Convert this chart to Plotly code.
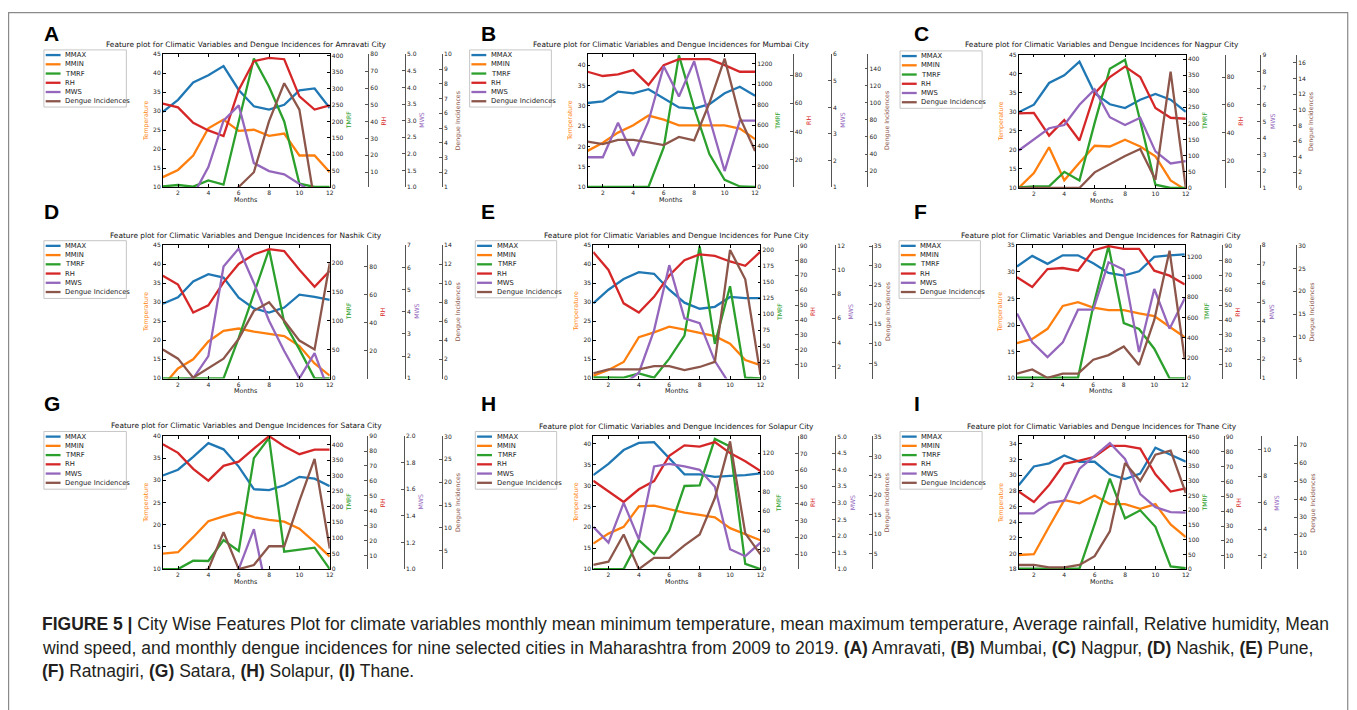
import plotly.graph_objects as go

# ---------------- data ----------------
MONTHS = list(range(1, 13))
CITIES = ["Amravati", "Mumbai", "Nagpur", "Nashik", "Pune", "Ratnagiri", "Satara", "Solapur", "Thane"]
LETTERS = ["A", "B", "C", "D", "E", "F", "G", "H", "I"]
SERIES = ["MMAX", "MMIN", "TMRF", "RH", "MWS", "Dengue Incidences"]

amravati_mmax = [29.8, 33.0, 37.6, 39.5, 41.9, 35.6, 31.3, 30.4, 31.7, 35.5, 36.0, 30.8]
amravati_mmin = [12.6, 14.5, 18.3, 25.5, 27.8, 24.8, 25.1, 23.5, 24.1, 18.3, 18.3, 13.9]
amravati_tmrf = [2, 6, 1, 20, 7, 200, 392, 306, 200, 10, 0, 0]
amravati_rh = [50.7, 48.5, 39.3, 34.8, 31.5, 58.9, 75.9, 77.9, 77.1, 55.0, 47.2, 49.7]
amravati_mws = [0.8, 0.8, 0.75, 1.6, 3.0, 3.46, 1.72, 1.48, 1.38, 1.1, 0.8, 0.8]
amravati_den = [0, 0, 0, 0, 0, 1.0, 2.0, 5.47, 8.04, 6.25, 0, 0]

mumbai_mmax = [30.7, 31.1, 33.5, 33.1, 34.1, 31.9, 29.6, 29.3, 30.4, 33.1, 34.7, 32.5]
mumbai_mmin = [18.9, 20.9, 23.4, 25.2, 27.6, 26.6, 25.2, 25.2, 25.2, 25.2, 24.4, 21.8]
mumbai_tmrf = [0, 0, 0, 0, 0, 384, 1280, 768, 320, 70, 5, 0]
mumbai_rh = [82.3, 79.3, 80.5, 83.5, 73.0, 87.0, 91.2, 91.2, 91.2, 87.0, 82.3, 82.3]
mumbai_mws = [2.12, 2.12, 3.42, 2.18, 3.48, 5.55, 4.41, 5.74, 3.6, 1.6, 3.5, 3.5]
mumbai_den = [54.6, 51.5, 56.5, 56.5, 53.5, 50.4, 60.0, 56.0, 99.6, 151.5, 82.7, 43.5]

nagpur_mmax = [29.9, 31.9, 37.6, 39.6, 43.2, 34.9, 32.0, 31.0, 33.2, 34.7, 33.2, 30.0]
nagpur_mmin = [10.0, 13.9, 20.7, 12.0, 16.6, 21.1, 20.9, 22.7, 20.9, 18.3, 12.0, 9.5]
nagpur_tmrf = [2, 5, 5, 50, 23, 202, 370, 398, 208, 10, 0, 0]
nagpur_rh = [53.9, 54.3, 38.0, 49.2, 34.5, 68.3, 80.0, 87.5, 80.0, 57.8, 50.8, 50.1]
nagpur_mws = [3.25, 3.94, 4.59, 4.78, 6.0, 6.92, 5.25, 4.78, 5.22, 3.2, 2.47, 2.61]
nagpur_den = [0, 0, 0, 0, 0, 2.0, 3.05, 4.1, 5.0, 1.04, 14.9, 0]

nashik_mmax = [29.6, 31.3, 35.5, 37.4, 36.5, 31.2, 28.4, 27.3, 28.6, 32.0, 31.4, 30.6]
nashik_mmin = [8.0, 12.6, 15.0, 19.7, 22.5, 23.1, 22.3, 21.8, 21.1, 18.5, 13.9, 10.7]
nashik_tmrf = [0, 0, 0, 0, 0, 70, 145, 222.7, 96.6, 50, 0, 0]
nashik_rh = [73.5, 67.2, 47.3, 52.4, 68.8, 81.9, 88.6, 92.4, 91.0, 77.7, 65.6, 77.0]
nashik_mws = [0.9, 0.9, 1.0, 2.0, 6.04, 6.85, 5.3, 3.6, 2.23, 1.0, 2.14, 0.3]
nashik_den = [3.04, 2.07, 0.07, 1.04, 2.07, 4.15, 7.1, 8.0, 6.05, 3.97, 3.04, 12.1]

pune_mmax = [29.7, 33.3, 36.1, 37.9, 37.5, 33.3, 29.9, 28.3, 28.8, 31.4, 31.1, 31.1]
pune_mmin = [10.7, 12.2, 14.3, 20.8, 22.1, 23.6, 22.8, 21.9, 21.1, 19.1, 14.8, 13.5]
pune_tmrf = [1.5, 1.0, 1.0, 7.7, 1.0, 30.8, 66.7, 206, 53.8, 143.6, 1.0, 0]
pune_rh = [85.6, 73.6, 51.2, 45.1, 55.6, 69.9, 80.2, 84.1, 83.0, 79.3, 76.4, 85.9]
pune_mws = [0.3, 0.4, 0.55, 1.5, 5.0, 10.4, 6.0, 5.6, 2.46, 0.5, 0.3, 0.3]
pune_den = [2.5, 3.5, 3.5, 3.5, 4.3, 4.3, 3.3, 4.1, 5.4, 34.0, 26.5, 2.1]

ratnagiri_mmax = [31.0, 33.0, 31.5, 33.1, 33.1, 31.6, 29.8, 29.3, 30.1, 32.8, 33.1, 33.3]
ratnagiri_mmin = [16.6, 17.4, 19.3, 23.6, 24.3, 23.3, 22.8, 22.8, 22.2, 21.7, 19.7, 17.7]
ratnagiri_tmrf = [6, 6, 6, 6, 6, 713, 1304, 545, 487, 292, 0, 0]
ratnagiri_rh = [68.7, 62.2, 74.2, 74.9, 73.1, 86.7, 89.6, 87.8, 87.8, 73.1, 69.8, 63.9]
ratnagiri_mws = [4.41, 2.89, 2.12, 2.89, 4.61, 4.61, 7.1, 6.71, 2.38, 5.7, 3.61, 5.21]
ratnagiri_den = [1.93, 2.85, 1.0, 1.93, 1.93, 5.0, 6.0, 7.9, 3.85, 13.7, 28.9, 5.0]

satara_mmax = [31.1, 32.4, 35.3, 38.4, 37.0, 33.1, 28.0, 27.8, 28.9, 30.8, 30.4, 28.7]
satara_mmin = [13.5, 13.8, 17.2, 20.8, 21.9, 22.8, 21.7, 21.1, 20.7, 19.1, 16.1, 12.8]
satara_tmrf = [0, 0, 27, 26, 93, 58, 356, 421, 56, 63, 69, 0]
satara_rh = [84.5, 78.8, 68.1, 60.2, 70.1, 72.9, 81.7, 90.0, 83.2, 77.9, 81.0, 81.0]
satara_mws = [0.8, 0.8, 0.8, 0.8, 0.9, 1.0, 1.30, 0.75, 0.8, 0.8, 0.8, 0.8]
satara_den = [0, 0, 0, 1.0, 9.07, 1.0, 1.9, 6.0, 6.0, 15.9, 25.1, 5.5]

solapur_mmax = [32.5, 35.2, 38.5, 40.2, 40.4, 36.6, 32.7, 32.7, 32.1, 32.3, 32.5, 32.9]
solapur_mmin = [16.1, 18.5, 20.1, 25.0, 25.2, 24.3, 23.5, 23.0, 22.4, 19.8, 18.3, 16.9]
solapur_tmrf = [0, 0, 0, 30, 15.6, 40, 86, 86.7, 134.7, 126.9, 5.4, 0]
solapur_rh = [53.8, 47.3, 41.1, 48.7, 53.6, 68.7, 74.9, 74.2, 76.9, 70.3, 65.4, 59.6]
solapur_mws = [2.28, 1.8, 3.0, 1.9, 4.1, 4.18, 4.1, 4.0, 3.49, 1.6, 1.39, 1.8]
solapur_den = [2.1, 2.9, 9.9, 1.0, 3.9, 3.9, 7.1, 9.9, 19.3, 33.9, 10.2, 4.8]

thane_mmax = [28.7, 31.1, 31.5, 32.5, 31.7, 31.7, 30.1, 29.5, 30.2, 33.5, 32.6, 31.7]
thane_mmin = [19.8, 19.9, 23.4, 26.8, 26.4, 27.4, 26.3, 26.3, 25.7, 26.3, 23.7, 22.1]
thane_tmrf = [2, 2, 2, 2, 2, 153, 308, 173, 200, 144, 9, 3]
thane_rh = [53.2, 46.2, 57.6, 71.8, 74.0, 76.6, 83.9, 83.9, 82.1, 64.8, 53.2, 55.4]
thane_mws = [5.2, 5.2, 6.0, 6.16, 8.57, 9.5, 10.5, 9.3, 6.65, 5.67, 5.3, 5.25]
thane_den = [3.3, 3.3, 2.0, 2.0, 3.3, 8.2, 22.0, 60.0, 50.0, 64.7, 66.9, 43.3]

CITY_DATA = [
    (amravati_mmax, amravati_mmin, amravati_tmrf, amravati_rh, amravati_mws, amravati_den),
    (mumbai_mmax, mumbai_mmin, mumbai_tmrf, mumbai_rh, mumbai_mws, mumbai_den),
    (nagpur_mmax, nagpur_mmin, nagpur_tmrf, nagpur_rh, nagpur_mws, nagpur_den),
    (nashik_mmax, nashik_mmin, nashik_tmrf, nashik_rh, nashik_mws, nashik_den),
    (pune_mmax, pune_mmin, pune_tmrf, pune_rh, pune_mws, pune_den),
    (ratnagiri_mmax, ratnagiri_mmin, ratnagiri_tmrf, ratnagiri_rh, ratnagiri_mws, ratnagiri_den),
    (satara_mmax, satara_mmin, satara_tmrf, satara_rh, satara_mws, satara_den),
    (solapur_mmax, solapur_mmin, solapur_tmrf, solapur_rh, solapur_mws, solapur_den),
    (thane_mmax, thane_mmin, thane_tmrf, thane_rh, thane_mws, thane_den),
]

# ---------------- axis scales per panel (lo, hi, step, fmt) ----------------
AXES = [
    dict(temp=(10, 45, 5), tmrf=(0, 405, 50), rh=(1.2, 80, 10), mws=(1, 5, 0.5, ".1f"), den=(1, 10, 1)),
    dict(temp=(10, 42.7, 5), tmrf=(0, 1290, 200), rh=(0.9, 94.6, 20), mws=(1, 6, 1), den=(1.5, 156.5, 20)),
    dict(temp=(10, 45, 5), tmrf=(0, 413, 50), rh=(0.5, 95.9, 20), mws=(1, 9, 1), den=(0, 17.04, 2)),
    dict(temp=(10, 45, 5), tmrf=(0, 230, 50), rh=(0.5, 95.2, 20), mws=(1, 7, 1), den=(0, 14, 2)),
    dict(temp=(10, 45, 5), tmrf=(0, 207.7, 25), rh=(0.9, 90.2, 10), mws=(1.03, 12.05, 2), den=(1.2, 35.2, 5)),
    dict(temp=(10, 35, 5), tmrf=(0, 1313, 200), rh=(0.9, 90.2, 10), mws=(1, 8, 1), den=(0.9, 30.1, 5)),
    dict(temp=(10, 40, 5), tmrf=(0, 427, 50), rh=(0.9, 90.1, 10), mws=(1, 2, 0.2, ".1f"), den=(1, 30.1, 5)),
    dict(temp=(10, 41.7, 5), tmrf=(0, 137, 20), rh=(1, 80.1, 10), mws=(1, 5, 0.5, ".1f"), den=(1, 35.1, 5)),
    dict(temp=(18, 34.9, 2), tmrf=(0, 450.5, 50), rh=(1, 90.1, 10), mws=(1, 10.98, 2), den=(1, 74.7, 10)),
]

# ---------------- layout geometry (pixels in the 1357x710 picture) ----------------
PAGE_W, PAGE_H = 1357, 710
OFF = 8  # the page body margin that offsets the figure in the browser
W, H = PAGE_W - OFF, PAGE_H - OFF
GEOM = [
    dict(L=163.3, R=330.7, T=50.5, B=185, rh=369.3, mws=406, den=443.3, leg=(44, 46.3, 126.7, 104), let=(41.7, 30)),
    dict(L=589.3, R=757.3, T=50.5, B=185, rh=795, mws=833.3, den=870, leg=(471, 46.3, 553, 104), let=(480, 30)),
    dict(L=1021.7, R=1189.3, T=51, B=186, rh=1228.3, mws=1264, den=1300, leg=(902.7, 47.3, 985, 105.3), let=(915, 30)),
    dict(L=163.3, R=330.7, T=243.3, B=378.3, rh=368.3, mws=406, den=443.3, leg=(44, 239, 126.7, 297.3), let=(41.7, 210)),
    dict(L=595, R=762.7, T=243.3, B=378.3, rh=800, mws=837.7, den=874.3, leg=(476.7, 239, 558.3, 296.7), let=(480, 210)),
    dict(L=1020, R=1188.3, T=243.3, B=378.3, rh=1226, mws=1263.3, den=1300, leg=(901.7, 239, 983.3, 297.3), let=(915, 210)),
    dict(L=163.3, R=330.7, T=436, B=571, rh=368.3, mws=405, den=443.3, leg=(44, 431.7, 126.7, 490), let=(41.7, 403)),
    dict(L=595, R=762.7, T=436.7, B=571, rh=800, mws=837.7, den=874.3, leg=(476.7, 431.7, 558.3, 490), let=(480, 403)),
    dict(L=1021.7, R=1189.3, T=436.7, B=571, rh=1227.3, mws=1265, den=1301, leg=(902.7, 431.7, 985, 490), let=(915, 403)),
]

COLORS = ["#1f77b4", "#ff7f0e", "#2ca02c", "#d62728", "#9467bd", "#8c564b"]
FONT = "DejaVu Sans"
TICKFONT = dict(family=FONT, size=6, color="#222")


def fx(x):
    return (x - OFF) / W


def fy(y):
    return 1 - (y - OFF) / H


def ticks(spec):
    lo, hi, step = spec[0], spec[1], spec[2]
    fmt = spec[3] if len(spec) > 3 else None
    k = int(lo // step)
    vals = []
    while k * step <= hi + 1e-9:
        v = round(k * step, 6)
        if v >= lo - 1e-9:
            vals.append(v)
        k += 1
    if fmt:
        text = [format(v, fmt) for v in vals]
    else:
        text = [str(int(round(v))) if abs(v - round(v)) < 1e-9 else str(v) for v in vals]
    span = hi - lo
    rng = [lo - span * 0.002, hi + span * 0.002]
    width = max(len(t) - 0.5 * t.count(".") for t in text)
    return vals, text, rng, width


fig = go.Figure()
layout = dict(width=W, height=H, margin=dict(l=0, r=0, t=0, b=0),
              paper_bgcolor="white", plot_bgcolor="white", showlegend=False)
annotations = []
shapes = []

for p in range(9):
    g = GEOM[p]
    ax = AXES[p]
    data = CITY_DATA[p]
    xi = p + 1
    xkey = "xaxis" if xi == 1 else f"xaxis{xi}"
    xref = "x" if xi == 1 else f"x{xi}"
    ids = [5 * p + k for k in range(1, 6)]
    ykeys = ["yaxis" if i == 1 else f"yaxis{i}" for i in ids]
    yrefs = ["y" if i == 1 else f"y{i}" for i in ids]

    layout[xkey] = dict(domain=[fx(g["L"]), fx(g["R"])], anchor=yrefs[0], range=[1, 12],
                        tickvals=[2, 4, 6, 8, 10, 12], ticks="inside", ticklen=3, tickwidth=0.8,
                        tickcolor="black", mirror="ticks", showline=True, linecolor="black",
                        linewidth=0.8, showgrid=False, zeroline=False, tickfont=TICKFONT)

    specs = [ax["temp"], ax["tmrf"], ax["rh"], ax["mws"], ax["den"]]
    widths = []
    for k in range(5):
        vals, text, rng, wdt = ticks(specs[k])
        widths.append(wdt)
        d = dict(range=rng, tickvals=vals, ticktext=text, ticks="inside", ticklen=3, tickwidth=0.8,
                 showgrid=False, zeroline=False, showline=True, linewidth=0.8, tickfont=TICKFONT)
        if k == 0:
            d.update(domain=[fy(g["B"]), fy(g["T"])], anchor=xref, side="left", mirror=True,
                     linecolor="black", tickcolor="black")
        elif k == 1:
            d.update(overlaying=yrefs[0], anchor=xref, side="right", linecolor="black", tickcolor="black")
        else:
            pos = g[["rh", "mws", "den"][k - 2]]
            d.update(overlaying=yrefs[0], anchor="free", position=fx(pos), side="right",
                     linecolor="#555", tickcolor="#555")
        layout[ykeys[k]] = d

    # traces: MMAX, MMIN on temperature axis, then one axis each
    axis_for = [0, 0, 1, 2, 3, 4]
    for s in range(6):
        fig.add_trace(go.Scatter(x=MONTHS, y=data[s], mode="lines", name=SERIES[s],
                                 line=dict(color=COLORS[s], width=2.3),
                                 xaxis=xref, yaxis=yrefs[axis_for[s]], showlegend=False))

    cx = (g["L"] + g["R"]) / 2
    cy = (g["T"] + g["B"]) / 2
    annotations.append(dict(text=f"Feature plot for Climatic Variables and Dengue Incidences for {CITIES[p]} City",
                            x=fx(cx), y=fy(g["T"] - 10), xref="paper", yref="paper", showarrow=False,
                            xanchor="center", yanchor="middle", font=dict(family=FONT, size=7.4, color="#111")))
    annotations.append(dict(text="Months", x=fx(cx), y=fy(g["B"] + 13), xref="paper", yref="paper",
                            showarrow=False, xanchor="center", yanchor="middle",
                            font=dict(family=FONT, size=6.4, color="#111")))
    annotations.append(dict(text=f"<b>{LETTERS[p]}</b>", x=fx(g["let"][0]), y=fy(g["let"][1]), xref="paper",
                            yref="paper", showarrow=False, xanchor="left", yanchor="middle",
                            font=dict(family="Liberation Sans", size=21, color="black")))

    # axis titles
    titles = [("Temperature", COLORS[1], g["L"] - (11 + 3.3 * widths[0])),
              ("TMRF", COLORS[2], g["R"] + 9 + 3.3 * widths[1]),
              ("RH", COLORS[3], g["rh"] + 9 + 3.3 * widths[2]),
              ("MWS", COLORS[4], g["mws"] + 9 + 3.3 * widths[3]),
              ("Dengue Incidences", COLORS[5], g["den"] + 9 + 3.3 * widths[4])]
    for t, c, xpos in titles:
        annotations.append(dict(text=t, x=fx(xpos), y=fy(cy), xref="paper", yref="paper", showarrow=False,
                                textangle=-90, xanchor="center", yanchor="middle",
                                font=dict(family=FONT, size=6.2, color=c)))

    # legend
    x0, y0, x1, y1 = g["leg"]
    shapes.append(dict(type="rect", xref="paper", yref="paper", x0=fx(x0), x1=fx(x1), y0=fy(y1), y1=fy(y0),
                       line=dict(color="#c0c0c0", width=0.9), fillcolor="white", layer="above"))
    for s in range(6):
        ly = y0 + 5.2 + 9.33 * s
        shapes.append(dict(type="line", xref="paper", yref="paper", x0=fx(x0 + 1.8), x1=fx(x0 + 16.7),
                           y0=fy(ly), y1=fy(ly), line=dict(color=COLORS[s], width=2.3), layer="above"))
        annotations.append(dict(text=SERIES[s], x=fx(x0 + 19.3), y=fy(ly), xref="paper", yref="paper",
                                showarrow=False, xanchor="left", yanchor="middle",
                                font=dict(family=FONT, size=6.8, color="#222")))

# caption
CAP_FONT = dict(family="Liberation Sans", size=17.5, color="#231f20")
caption_lines = [
    "<b>FIGURE 5 |</b> City Wise Features Plot for climate variables monthly mean minimum temperature, "
    "mean maximum temperature, Average rainfall, Relative humidity, Mean",
    "wind speed, and monthly dengue incidences for nine selected cities in Maharashtra from 2009 to 2019. "
    "<b>(A)</b> Amravati, <b>(B)</b> Mumbai, <b>(C)</b> Nagpur, <b>(D)</b> Nashik, <b>(E)</b> Pune,",
    "<b>(F)</b> Ratnagiri, <b>(G)</b> Satara, <b>(H)</b> Solapur, <b>(I)</b> Thane.",
]
for i, line in enumerate(caption_lines):
    annotations.append(dict(text=line, x=fx(40), y=fy(626 + 24 * i), xref="paper", yref="paper",
                            showarrow=False, xanchor="left", yanchor="middle", font=CAP_FONT))

# outer frame
shapes.append(dict(type="rect", xref="paper", yref="paper", x0=fx(8.6), x1=fx(1351.7), y0=fy(720), y1=fy(8.6),
                   line=dict(color="#8a8a8a", width=1.2), layer="above"))

layout["annotations"] = annotations
layout["shapes"] = shapes
fig.update_layout(**layout)
fig.write_html("out.html")
